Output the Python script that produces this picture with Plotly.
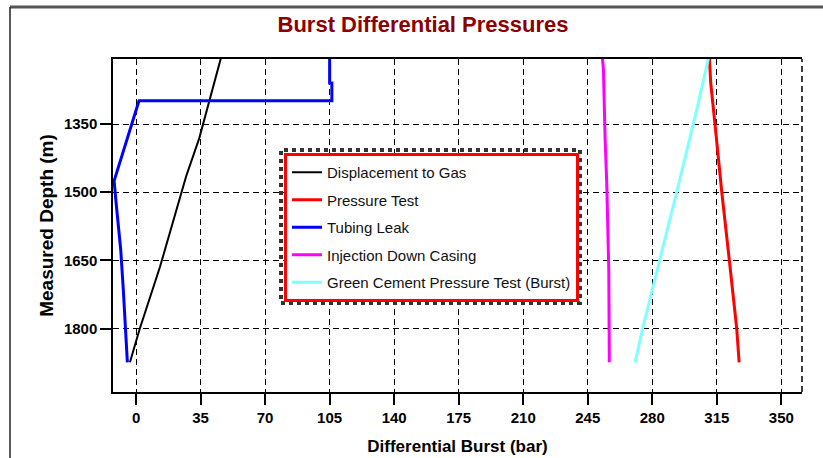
import plotly.graph_objects as go

# ---------------- data ----------------
disp_depth = [1207, 1315, 1381, 1466, 1664, 1803, 1874]
disp_bar = [45.9, 38.9, 34.3, 27.1, 13.0, 1.8, -3.3]

ptest_depth = [1207, 1260, 1350, 1429, 1500, 1650, 1800, 1874]
ptest_bar = [311.0, 311.7, 314.0, 315.9, 317.7, 321.8, 325.8, 327.1]

tleak_depth = [1207, 1260, 1260, 1299, 1299, 1475, 1524, 1576, 1627, 1715, 1814, 1874]
tleak_bar = [105.0, 105.0, 106.2, 106.2, 1.6, -11.9, -10.8, -9.6, -8.3, -6.9, -5.4, -4.7]

inj_depth = [1207, 1231, 1381, 1480, 1671, 1874]
inj_bar = [253.0, 253.5, 254.4, 255.3, 256.4, 256.7]

gc_depth = [1207, 1319, 1499, 1649, 1799, 1874]
gc_bar = [310.4, 304.1, 293.3, 283.9, 274.8, 270.7]

x_ticks = [0, 35, 70, 105, 140, 175, 210, 245, 280, 315, 350]
y_ticks = [1350, 1500, 1650, 1800]

series = [
    ("Displacement to Gas", disp_bar, disp_depth, "#000000", 2),
    ("Pressure Test", ptest_bar, ptest_depth, "#FF0000", 3),
    ("Tubing Leak", tleak_bar, tleak_depth, "#0000FF", 3),
    ("Injection Down Casing", inj_bar, inj_depth, "#FF00FF", 3),
    ("Green Cement Pressure Test (Burst)", gc_bar, gc_depth, "#7FFFFF", 3),
]

FONT = "Liberation Sans, Arial, sans-serif"

fig = go.Figure()
for i, (name, xs, ys, col, w) in enumerate(series):
    fig.add_trace(go.Scatter(x=xs, y=ys, mode="lines", name=name,
                             legendgroup=f"g{i}",
                             line=dict(color=col, width=w)))

# plot area: x 113..802, y 59..392
L, R, T, B = 113, 802, 59, 392
W, H = 823, 458
def px(x):
    return (x - L) / (R - L)
def py(y):
    return (B - y) / (B - T)

fig.update_layout(
    width=W, height=H,
    margin=dict(l=L, r=W - R, t=T, b=H - B),
    paper_bgcolor="white", plot_bgcolor="white",
    font=dict(family=FONT, color="#000"),
    title=dict(text="<b>Burst Differential Pressures</b>",
               font=dict(size=22, color="#8B0000", family=FONT),
               x=0.514, xref="container", xanchor="center",
               y=1 - 24 / H, yref="container", yanchor="middle"),
    showlegend=True,
    legend=dict(x=px(284), y=py(153), xanchor="left", yanchor="top",
                bgcolor="white", bordercolor="#FF0000", borderwidth=3,
                font=dict(size=15, family=FONT, color="#111"),
                traceorder="grouped", tracegroupgap=5,
                itemwidth=30),
)

fig.update_xaxes(
    range=[-12.5, 361.2], tickvals=x_ticks, ticktext=[str(v) for v in x_ticks],
    showgrid=True, gridcolor="#000", gridwidth=1, griddash="6px,4px",
    showline=True, linecolor="#000", linewidth=1.5, mirror=True,
    ticks="outside", ticklen=11, tickcolor="#000", tickwidth=1.5,
    tickfont=dict(size=15, family=FONT, color="#000", weight="bold"),
    zeroline=False, automargin=False,
    title=dict(text="<b>Differential Burst (bar)</b>",
               font=dict(size=17, family=FONT), standoff=15),
)
fig.update_yaxes(
    range=[1939.2, 1207.1], tickvals=y_ticks, ticktext=[str(v) for v in y_ticks],
    showgrid=True, gridcolor="#000", gridwidth=1, griddash="6px,4px",
    showline=True, linecolor="#000", linewidth=1.5, mirror=False,
    ticks="outside", ticklen=11, tickcolor="#000", tickwidth=1.5,
    tickfont=dict(size=15, family=FONT, color="#000", weight="bold"),
    zeroline=False, automargin=False,
    title=dict(text="<b>Measured Depth (m)</b>",
               font=dict(size=19, family=FONT), standoff=5),
)

shapes = [
    # right dashed border
    dict(type="line", xref="paper", yref="paper", x0=1, x1=1, y0=0, y1=1,
         line=dict(color="#000", width=1.5, dash="6px,4px")),
    # outer frame: top and left
    dict(type="line", xref="paper", yref="paper", x0=px(10), x1=px(W + 5),
         y0=py(7), y1=py(7), line=dict(color="#555", width=3)),
    dict(type="line", xref="paper", yref="paper", x0=px(10), x1=px(10),
         y0=py(7), y1=py(H + 5), line=dict(color="#222", width=1.5)),
    # hatched shadow around legend
    dict(type="rect", xref="paper", yref="paper", x0=px(281), x1=px(580),
         y0=py(303), y1=py(150), line=dict(color="#333", width=4, dash="dot")),
]
fig.update_layout(shapes=shapes)

fig.write_html("out.html")
